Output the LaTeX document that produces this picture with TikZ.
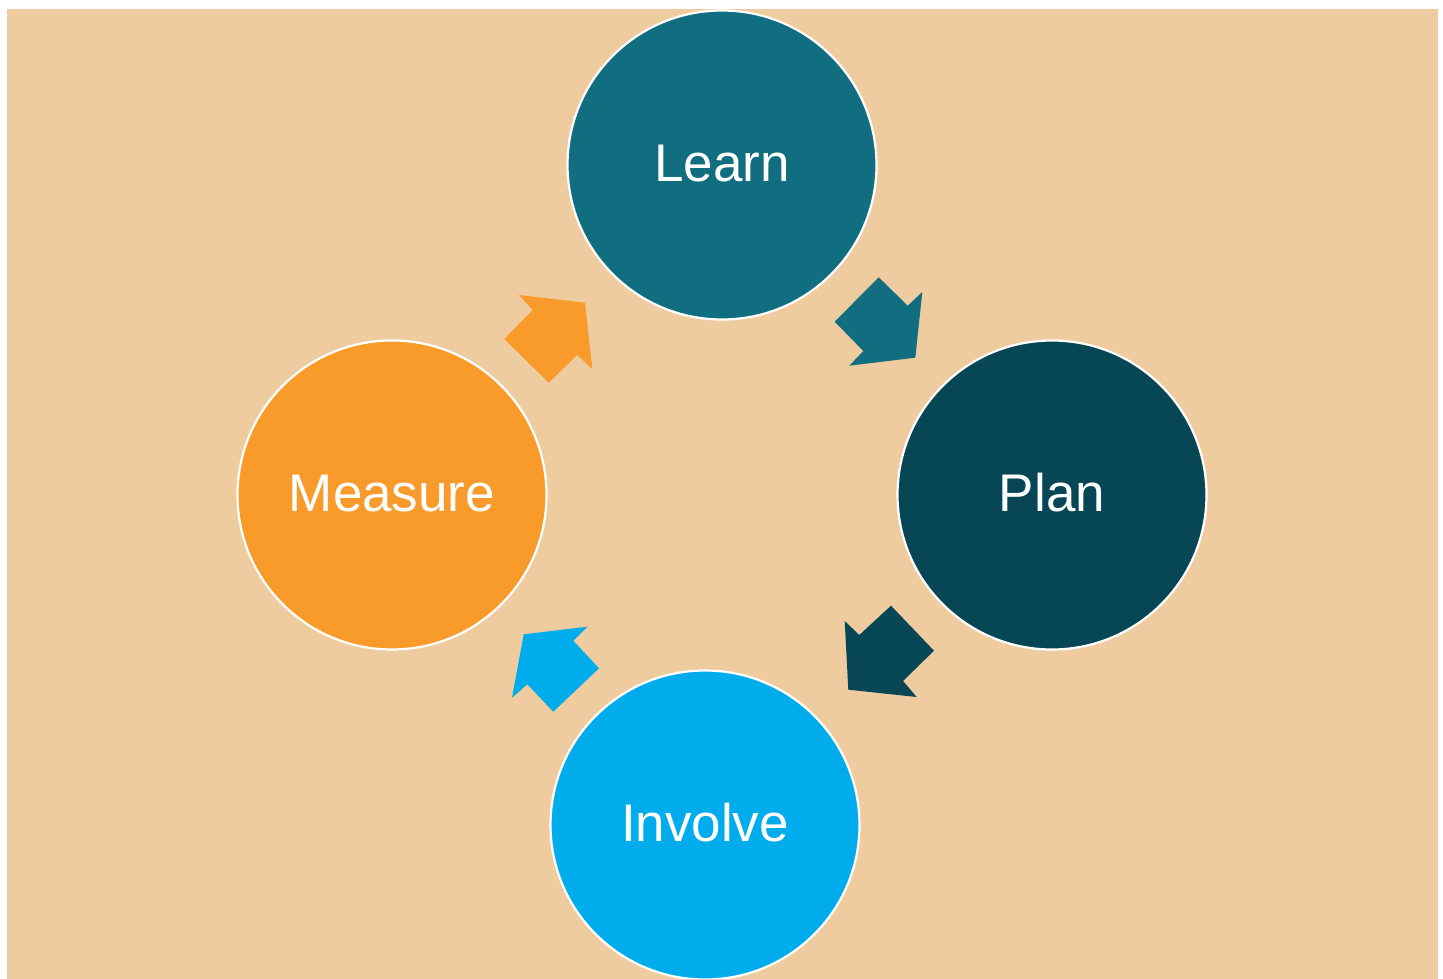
\documentclass[tikz,border=0pt]{standalone}
\usepackage{fontspec}
\setmainfont{Liberation Sans}
\definecolor{bgtan}{RGB}{238,204,160}
\definecolor{learnc}{RGB}{17,110,128}
\definecolor{planc}{RGB}{7,70,84}
\definecolor{involvec}{RGB}{0,172,236}
\definecolor{measurec}{RGB}{248,155,42}
\begin{document}
\begin{tikzpicture}[x=1pt,y=-1pt,
  stage/.style={circle,draw=white,line width=2.2pt,minimum size=309pt,inner sep=0pt},
  lbl/.style={anchor=base,text=white,font=\fontsize{53}{60}\selectfont},
  blk/.style={draw=none}]
\useasboundingbox (0,0) rectangle (1443,979);
\fill[bgtan] (7,9) rectangle (1438,979);
\begin{scope}
\clip (7,9) rectangle (1438,979);
\node[stage,fill=learnc] (learn) at (722,165) {};
\node[stage,fill=planc] (plan) at (1052,495) {};
\node[stage,fill=involvec] (involve) at (705,825) {};
\node[stage,fill=measurec] (measure) at (392,495) {};
\end{scope}
\node[lbl] (tlearn) at (722,181.7) {Learn};
\node[lbl] (tplan) at (1052,511.7) {Plan};
\node[lbl] (tinvolve) at (705,841.7) {Involve};
\node[lbl] (tmeasure) at (392,511.7) {Measure};
% arrows
\fill[learnc] (878.7,277.3) -- (907.7,305.7) -- (922.3,292) -- (915.3,357.7) -- (849.3,365.7) -- (863.3,351) -- (834.7,321.7) -- cycle;
\fill[planc] (844.7,621) -- (859.3,635) -- (891,605.7) -- (934,650.7) -- (903,681) -- (916.7,697) -- (848.3,689.7) -- cycle;
\fill[involvec] (523.7,634.3) -- (587.3,626.7) -- (573.3,640.7) -- (599,668.3) -- (553.3,711.7) -- (527.3,684.3) -- (512,697.7) -- cycle;
\fill[measurec] (519,295) -- (585,302.7) -- (592.3,369) -- (577.3,355) -- (548.7,382.7) -- (504.3,339) -- (532.7,310) -- cycle;
\end{tikzpicture}
\end{document}
